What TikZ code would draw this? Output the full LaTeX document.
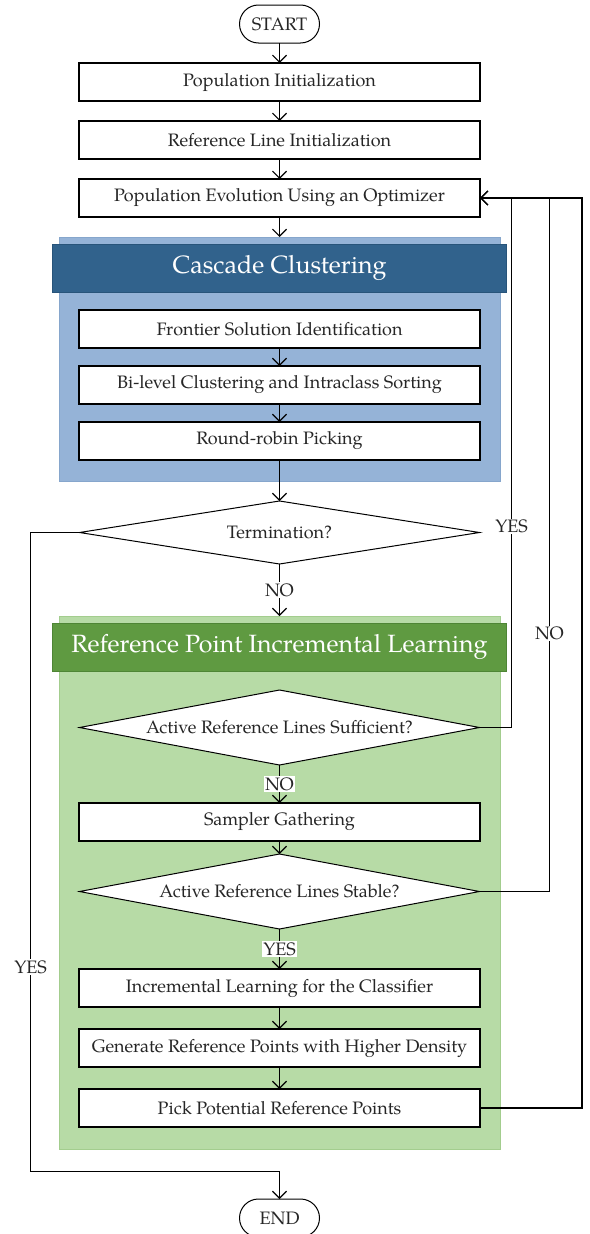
\documentclass[tikz,border=0pt]{standalone}
\usepackage{fontspec}
\setmainfont{TeX Gyre Pagella}
\usepackage{xcolor}
\definecolor{ccfill}{HTML}{95B3D7}
\definecolor{ccline}{HTML}{86A6CC}
\definecolor{cchead}{HTML}{31628C}
\definecolor{ccheadline}{HTML}{28547A}
\definecolor{rpfill}{HTML}{B7DBA6}
\definecolor{rpline}{HTML}{A3CD8E}
\definecolor{rphead}{HTML}{5F9A41}
\definecolor{rpheadline}{HTML}{4E8535}
\usepackage{tikz}
\usetikzlibrary{arrows.meta,positioning,shapes.geometric}
\tikzset{
  txt/.style={font=\fontsize{18pt}{21pt}\selectfont, text=black!85, outer sep=0pt},
  procbox/.style={txt, draw, fill=white, line width=1.1pt, inner sep=0pt,
                  minimum width=401pt, minimum height=38pt},
  termbox/.style={txt, draw, fill=white, line width=1pt, rounded corners=19pt,
                  minimum width=80pt, minimum height=38pt},
  decide/.style={txt, diamond, draw, fill=white, line width=1pt, aspect=6,
                 inner sep=0pt, minimum width=400pt},
  stagebg/.style={draw, line width=1pt, outer sep=0pt, minimum width=441pt},
  stagehead/.style={draw, line width=1pt, outer sep=0pt, minimum width=454pt,
                    minimum height=48pt, text=white,
                    font=\fontsize{25pt}{29pt}\selectfont},
  lbl/.style={txt, fill=white, inner sep=1pt},
  ar/.style={-{Straight Barb[length=7pt,width=14pt]}, line width=1.2pt},
}

\begin{document}
\begin{tikzpicture}[x=1pt, y=-1pt, node distance=20pt]
  \useasboundingbox (0,0) rectangle (589,1234);
  % main column
  \node[termbox] (start) at (279.5,24) {START};
  \node[procbox, below=of start] (init) {Population Initialization};
  \node[procbox, below=of init] (refline) {Reference Line Initialization};
  \node[procbox, below=of refline] (evolve) {Population Evolution Using an Optimizer};

  % cascade clustering
  \node[stagebg, fill=ccfill, draw=ccline, minimum height=244pt, below=of evolve] (ccbg) {};
  \node[stagehead, fill=cchead, draw=ccheadline, below=7pt of ccbg.north] (cchead) {Cascade Clustering};
  \node[procbox, below=18pt of cchead] (frontier) {Frontier Solution Identification};
  \node[procbox, below=18pt of frontier] (bilevel) {Bi-level Clustering and Intraclass Sorting};
  \node[procbox, below=18pt of bilevel] (robin) {Round-robin Picking};

  \node[decide, minimum height=63pt, below=41pt of robin] (term) {Termination?};

  % reference point incremental learning
  \node[stagebg, fill=rpfill, draw=rpline, minimum height=533pt, below=52pt of term] (rpbg) {};
  \node[stagehead, fill=rphead, draw=rpheadline, below=7pt of rpbg.north] (rphead) {Reference Point Incremental Learning};
  \node[decide, minimum height=75pt, below=19pt of rphead] (suff) {Active Reference Lines Sufficient?};
  \node[procbox, below=38pt of suff] (sampler) {Sampler Gathering};
  \node[decide, minimum height=75pt, below=13pt of sampler] (stable) {Active Reference Lines Stable?};
  \node[procbox, below=40pt of stable] (incr) {Incremental Learning for the Classifier};
  \node[procbox, below=22pt of incr] (gen) {Generate Reference Points with Higher Density};
  \node[procbox, below=22pt of gen] (pick) {Pick Potential Reference Points};

  \node[termbox, below=72pt of pick] (finish) {END};

  \draw[ar] (start) -- (init);
  \draw[ar] (init) -- (refline);
  \draw[ar] (refline) -- (evolve);
  \draw[ar] (evolve) -- (ccbg);
  \draw[ar] (frontier) -- (bilevel);
  \draw[ar] (bilevel) -- (robin);
  \draw[ar] (robin) -- (term);
  \draw[ar] (term) -- node[lbl] {NO} (rpbg);
  \draw[ar] (suff) -- node[lbl] {NO} (sampler);
  \draw[ar] (sampler) -- (stable);
  \draw[ar] (stable) -- node[lbl] {YES} (incr);
  \draw[ar] (incr) -- (gen);
  \draw[ar] (gen) -- (pick);

  % loops back to the optimizer
  \draw[ar] (suff.east) -- ++(32,0) |- node[lbl, pos=0.19] {YES} (evolve.east);
  \draw[ar] (stable.east) -- ++(70,0) |- node[lbl, pos=0.186] {NO} (evolve.east);
  \draw[ar] (pick.east) -- ++(102,0) |- (evolve.east);

  % termination exit
  \draw[ar] (term.west) -- ++(-49,0) -- node[lbl, pos=0.68] {YES} ++(0,639) -| (finish.north);
\end{tikzpicture}
\end{document}
